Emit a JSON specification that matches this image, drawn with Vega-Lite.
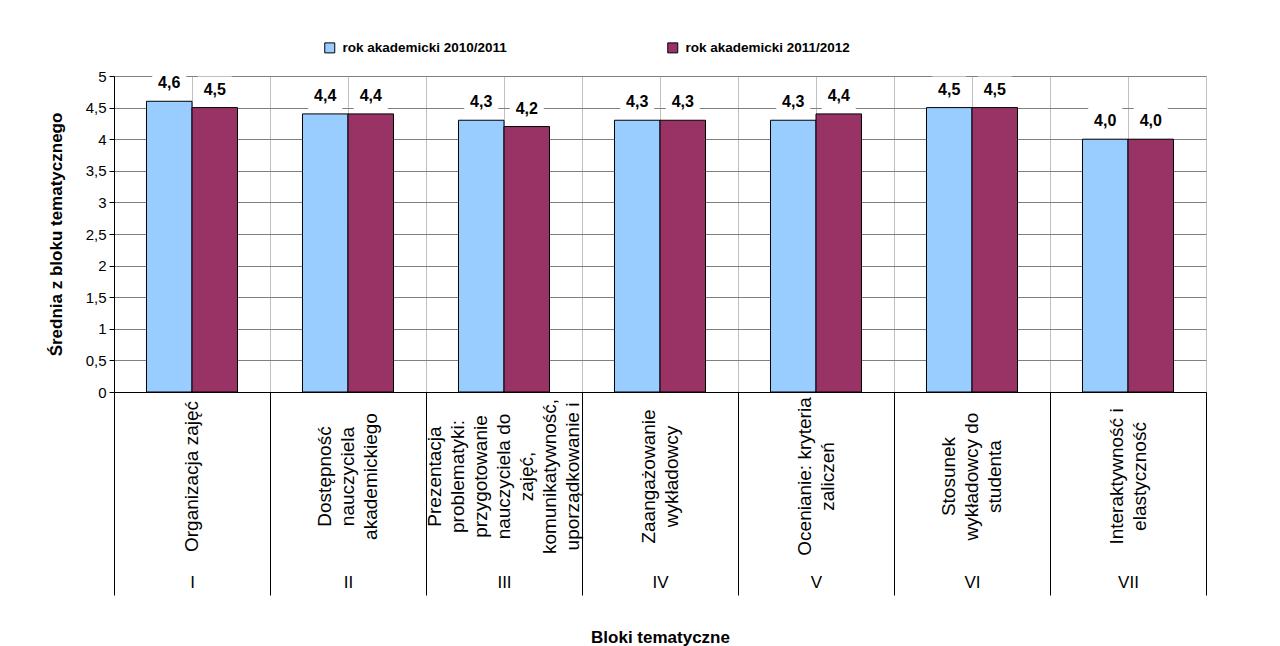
{
  "$schema": "https://vega.github.io/schema/vega-lite/v6.json",
  "width": 1092,
  "height": 316,
  "autosize": {"type": "none"},
  "padding": {"left": 114, "top": 76, "right": 74, "bottom": 254},
  "background": "white",
  "config": {
    "font": "Liberation Sans",
    "locale": {"number": {"decimal": ",", "thousands": " ", "grouping": [3], "currency": ["", " zł"]}},
    "view": {"stroke": null},
    "axis": {"labelColor": "black", "titleColor": "black"}
  },
  "data": {
    "values": [
      {"blok": "I", "rok": "rok akademicki 2010/2011", "wartosc": 4.6},
      {"blok": "I", "rok": "rok akademicki 2011/2012", "wartosc": 4.5},
      {"blok": "II", "rok": "rok akademicki 2010/2011", "wartosc": 4.4},
      {"blok": "II", "rok": "rok akademicki 2011/2012", "wartosc": 4.4},
      {"blok": "III", "rok": "rok akademicki 2010/2011", "wartosc": 4.3},
      {"blok": "III", "rok": "rok akademicki 2011/2012", "wartosc": 4.2},
      {"blok": "IV", "rok": "rok akademicki 2010/2011", "wartosc": 4.3},
      {"blok": "IV", "rok": "rok akademicki 2011/2012", "wartosc": 4.3},
      {"blok": "V", "rok": "rok akademicki 2010/2011", "wartosc": 4.3},
      {"blok": "V", "rok": "rok akademicki 2011/2012", "wartosc": 4.4},
      {"blok": "VI", "rok": "rok akademicki 2010/2011", "wartosc": 4.5},
      {"blok": "VI", "rok": "rok akademicki 2011/2012", "wartosc": 4.5},
      {"blok": "VII", "rok": "rok akademicki 2010/2011", "wartosc": 4.0},
      {"blok": "VII", "rok": "rok akademicki 2011/2012", "wartosc": 4.0}
    ]
  },
  "encoding": {
    "xOffset": {"field": "rok", "type": "nominal", "sort": null, "scale": {"paddingInner": 0, "paddingOuter": 0.714}},
    "y": {
      "field": "wartosc", "type": "quantitative",
      "scale": {"domain": [0, 5], "nice": false},
      "axis": {
        "title": "Średnia z bloku tematycznego",
        "values": [0, 0.5, 1, 1.5, 2, 2.5, 3, 3.5, 4, 4.5, 5],
        "format": "~g",
        "labelOverlap": false,
        "grid": true,
        "gridColor": "#808080",
        "domainColor": "black",
        "tickColor": "black",
        "tickSize": 5,
        "labelPadding": 3,
        "labelFontSize": 15,
        "titleFontSize": 17,
        "titleFontWeight": "bold",
        "titlePadding": 20
      }
    }
  },
  "layer": [
    {
      "mark": {"type": "bar", "stroke": "black", "strokeWidth": 1},
      "encoding": {
        "x": {
          "field": "blok", "type": "nominal", "sort": null,
          "scale": {"paddingInner": 0, "paddingOuter": 0},
          "axis": {
            "title": null,
            "orient": "bottom",
            "labelAngle": -90,
            "labelAlign": "center",
            "labelBaseline": "middle",
            "labelPadding": 84,
            "labelOffset": {
              "condition": [
                {"test": "datum.value === 'II' || datum.value === 'VI'", "value": -23},
                {"test": "datum.value === 'III'", "value": -69},
                {"test": "datum.value === 'IV' || datum.value === 'V' || datum.value === 'VII'", "value": -11.5}
              ],
              "value": 0
            },
            "ticks": false,
            "tickSize": 0,
            "domain": false,
            "grid": true,
            "gridColor": "#c0c0c0",
            "labelFontSize": 19,
            "labelLineHeight": 23,
            "labelLimit": 0,
            "labelOverlap": false,
            "labelBound": false,
            "labelExpr": "datum.value === 'I' ? ['Organizacja zajęć'] : datum.value === 'II' ? ['Dostępność', 'nauczyciela', 'akademickiego'] : datum.value === 'III' ? ['Prezentacja', 'problematyki:', 'przygotowanie', 'nauczyciela do', 'zajęć,', 'komunikatywność,', 'uporządkowanie i'] : datum.value === 'IV' ? ['Zaangażowanie', 'wykładowcy'] : datum.value === 'V' ? ['Ocenianie: kryteria', 'zaliczeń'] : datum.value === 'VI' ? ['Stosunek', 'wykładowcy do', 'studenta'] : ['Interaktywność i', 'elastyczność']"
          }
        },
        "color": {
          "field": "rok", "type": "nominal", "sort": null,
          "scale": {"range": ["#99CCFF", "#993366"]},
          "legend": {
            "title": null,
            "orient": "none",
            "legendX": 209,
            "legendY": -35,
            "direction": "horizontal",
            "padding": 0,
            "symbolType": "square",
            "symbolSize": 100,
            "symbolStrokeColor": "black",
            "symbolStrokeWidth": 1,
            "symbolOpacity": 1,
            "labelFontSize": 13.5,
            "labelFontWeight": "bold",
            "labelColor": "black",
            "labelOffset": 6,
            "labelLimit": 0,
            "columnPadding": 158
          }
        }
      }
    },
    {
      "mark": {
        "type": "point",
        "shape": "M-1,-0.77L1,-0.77L1,0.77L-1,0.77Z",
        "size": 1156,
        "filled": true,
        "fill": "white",
        "strokeWidth": 0,
        "opacity": 1,
        "yOffset": -18
      },
      "encoding": {
        "x": {"field": "blok", "type": "nominal", "sort": null, "axis": null}
      }
    },
    {
      "mark": {"type": "text", "fontWeight": "bold", "fontSize": 16, "baseline": "middle", "yOffset": -18, "color": "black"},
      "encoding": {
        "x": {
          "field": "blok", "type": "nominal", "sort": null,
          "axis": {
            "title": "Bloki tematyczne",
            "orient": "bottom",
            "tickBand": "extent",
            "ticks": true,
            "tickSize": 203,
            "tickColor": "black",
            "tickWidth": 1,
            "domain": true,
            "domainColor": "black",
            "labelAngle": 0,
            "labelAlign": "center",
            "labelBaseline": "middle",
            "labelPadding": -13,
            "labelFontSize": 17,
            "grid": true,
            "gridColor": "#c0c0c0",
            "titleFontSize": 17,
            "titleFontWeight": "bold",
            "titlePadding": 37
          }
        },
        "text": {"field": "wartosc", "type": "quantitative", "format": ".1f"}
      }
    }
  ],
  "resolve": {"axis": {"x": "independent"}}
}
